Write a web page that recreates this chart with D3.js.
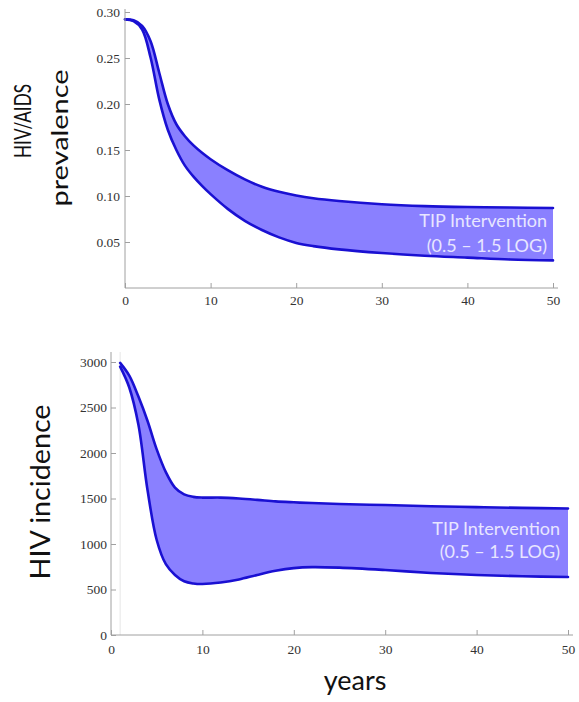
<!DOCTYPE html>
<html><head><meta charset="utf-8">
<script src="https://cdn.jsdelivr.net/npm/d3@7/dist/d3.min.js"></script>
<style>body{margin:0;background:#fff}svg{display:block}</style>
</head><body>
<svg id="c" width="579" height="702"></svg>
<script>
// ---- Data ----
const prevYears = [0,1,2,3,4,5,6,7,8,9,10,12,14,16,18,20,22,25,30,35,40,45,50];
const prevUpper = [0.292,0.291,0.285,0.268,0.234,0.200,0.178,0.165,0.155,0.147,0.140,0.128,0.118,0.110,0.1045,0.1005,0.0975,0.0945,0.091,0.089,0.088,0.0875,0.087];
const prevLower = [0.292,0.290,0.281,0.250,0.205,0.172,0.150,0.133,0.121,0.111,0.102,0.086,0.073,0.063,0.055,0.049,0.0455,0.042,0.038,0.035,0.033,0.031,0.030];

const incYears = [1,2,3,4,5,6,7,8,9,10,12,14,16,18,20,22,25,30,35,40,45,50];
const incUpper = [2990,2850,2620,2352,2040,1790,1620,1545,1518,1510,1510,1500,1485,1468,1458,1450,1440,1428,1415,1405,1397,1390];
const incLower = [2950,2720,2310,1590,1044,778,660,590,566,560,576,610,660,705,735,746,740,714,682,659,645,637];

const xTicks = [0,10,20,30,40,50];
const prevTicks = [0.05,0.10,0.15,0.20,0.25,0.30];
const incTicks = [0,500,1000,1500,2000,2500,3000];
const bandLabel = ["TIP Intervention","(0.5 \u2013 1.5 LOG)"];

const svg = d3.select("#c");
const FILL = "#8a80ff", STROKE = "#1a10d2", AXIS = "#a0a0a0", TXT = "#333";

function panel(cfg){
  const g = svg.append("g");
  const x = d3.scaleLinear().domain([0,50]).range(cfg.xr);
  const y = d3.scaleLinear().domain(cfg.yd).range(cfg.yr);
  if (cfg.vline != null) {
    g.append("line").attr("x1",x(cfg.vline)).attr("x2",x(cfg.vline))
      .attr("y1",cfg.yTop).attr("y2",y(0)).attr("stroke","#e6e6e6").attr("stroke-width",1);
  }
  const data = cfg.xs.map((t,i)=>({t, lo:cfg.lo[i], hi:cfg.hi[i]}));
  const curve = d3.curveCatmullRom.alpha(0.5);
  g.append("path").datum(data)
    .attr("d", d3.area().x(d=>x(d.t)).y0(d=>y(d.lo)).y1(d=>y(d.hi)).curve(curve))
    .attr("fill", FILL);
  ["lo","hi"].forEach(k=>{
    g.append("path").datum(data)
      .attr("d", d3.line().x(d=>x(d.t)).y(d=>y(d[k])).curve(curve))
      .attr("fill","none").attr("stroke",STROKE).attr("stroke-width",2.6)
      .attr("stroke-linecap","round");
  });
  const xa = g.append("g").attr("transform",`translate(0,${y(0)})`);
  xa.call(d3.axisBottom(x).tickValues(d3.range(0,51,2)).tickSize(-3).tickFormat(""));
  xa.call(d3.axisBottom(x).tickValues(xTicks).tickSize(-5).tickSizeOuter(0).tickPadding(cfg.xpad).tickFormat(d3.format("d")));
  const ya = g.append("g").attr("transform",`translate(${x(0)},0)`);
  ya.call(d3.axisLeft(y).tickValues(cfg.minor).tickSize(-3).tickFormat(""));
  ya.call(d3.axisLeft(y).tickValues(cfg.yt).tickSize(-5).tickSizeOuter(0).tickPadding(cfg.ypad).tickFormat(cfg.fmt));
  [xa,ya].forEach(a=>{
    a.attr("font-family",null).attr("font-size",null);
    a.selectAll(".domain").remove();
    a.selectAll("line").attr("stroke",AXIS);
    a.selectAll("text").attr("fill",TXT).style("font-family","'Liberation Serif','Times New Roman',serif").style("font-size","13.5px");
  });
  g.append("line").attr("x1",x(0)).attr("x2",cfg.xr[1]+5).attr("y1",y(0)).attr("y2",y(0)).attr("stroke",AXIS);
  g.append("line").attr("x1",x(0)).attr("x2",x(0)).attr("y1",y(0)).attr("y2",cfg.yTop).attr("stroke",AXIS);
  const lab = g.append("text").attr("text-anchor","end")
    .style("font-family","Lato, 'Open Sans', sans-serif").style("font-size","18px").attr("fill","#e8e6ff");
  bandLabel.forEach((s,i)=>{
    lab.append("tspan").attr("x",cfg.labX).attr("y",cfg.labY + i*cfg.labGap).text(s);
  });
  return {x,y};
}

panel({xr:[125,553], yd:[0,0.3], yr:[288,12], yTop:9, xs:prevYears, lo:prevLower, hi:prevUpper,
  yt:prevTicks, minor:d3.range(1,31).map(d=>d/100), fmt:d3.format(".2f"), xpad:7, ypad:5,
  labX:547, labY:227, labGap:25});
panel({xr:[111,568], yd:[0,3000], yr:[635,362], yTop:352, vline:1, xs:incYears, lo:incLower, hi:incUpper,
  yt:incTicks, minor:d3.range(0,3001,100), fmt:d3.format("d"), xpad:9, ypad:4,
  labX:560, labY:535, labGap:23});

const tf = "Lato, 'Open Sans', sans-serif";
function vtext(s, cx, cy, size, len){
  svg.append("text").attr("transform",`translate(${cx},${cy}) rotate(-90)`)
    .attr("text-anchor","middle").style("font-family",tf).style("font-size",size+"px")
    .attr("fill","#111").attr("textLength",len).attr("lengthAdjust","spacingAndGlyphs").text(s);
}
vtext("HIV/AIDS", 31, 121, 23, 74);
vtext("prevalence", 68, 138, 23, 137);
vtext("HIV incidence", 50, 492, 27, 175);
svg.append("text").attr("x",355).attr("y",690).attr("text-anchor","middle")
  .style("font-family",tf).style("font-size","27px").attr("fill","#111").text("years");
</script>
</body></html>
